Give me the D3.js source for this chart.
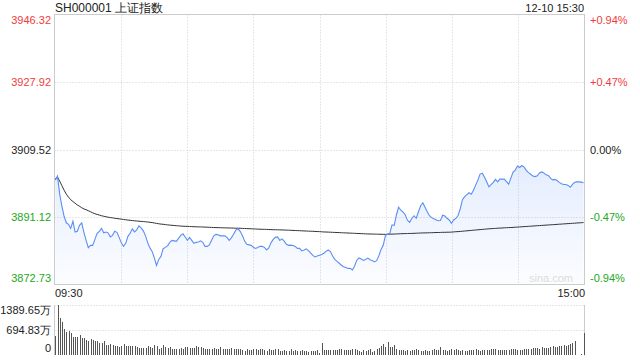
<!DOCTYPE html>
<html><head><meta charset="utf-8">
<script src="https://cdn.jsdelivr.net/npm/d3@7/dist/d3.min.js"></script>
<style>body{margin:0;background:#fff}svg{display:block}text{font-family:"Liberation Sans",Arial,sans-serif}</style>
</head><body><svg id="c" width="640" height="360"></svg>
<script>
const title = "SH000001 上证指数";
const stamp = "12-10 15:30";
const prevClose = 3909.52;
const priceTicks = [3946.32, 3927.92, 3909.52, 3891.12, 3872.73];
const pctLabels = ["+0.94%", "+0.47%", "0.00%", "-0.47%", "-0.94%"];
const volTicks = [1389.65, 694.83, 0];
const volLabels = ["1389.65万", "694.83万", "0"];
const timeLabels = ["09:30", "15:00"];
const gridMinutes = [30, 60, 90, 120, 150, 180, 210];

const prices = [
3901.18,3902.27,3897.35,3894.06,3891.33,3889.55,3889.14,3888.05,3889.96,3887.03,
3887.23,3888.87,3889.50,3886.95,3884.76,3882.77,3883.40,3883.40,3885.04,3886.68,
3887.23,3888.05,3886.81,3887.03,3886.81,3885.72,3886.13,3887.23,3886.95,3885.58,
3884.08,3883.12,3883.94,3885.86,3886.68,3887.91,3887.09,3887.64,3888.73,3888.18,
3887.36,3885.99,3884.08,3882.71,3881.75,3879.98,3877.92,3879.57,3880.39,3882.49,
3882.85,3883.26,3884.22,3884.76,3884.63,3884.49,3885.31,3886.13,3886.54,3885.67,
3884.76,3885.58,3884.76,3883.94,3884.22,3884.30,3884.63,3884.22,3883.12,3883.12,
3883.53,3884.76,3885.99,3886.40,3886.27,3885.99,3885.99,3885.99,3885.58,3884.76,
3885.45,3886.40,3887.55,3887.91,3887.23,3886.08,3884.63,3883.67,3883.53,3883.40,
3882.85,3882.57,3882.79,3883.12,3883.12,3882.85,3882.16,3882.71,3884.08,3885.04,
3885.58,3885.72,3884.76,3885.17,3884.54,3883.67,3883.40,3883.45,3883.34,3883.12,
3882.57,3882.57,3881.89,3882.16,3882.46,3881.94,3881.34,3880.66,3880.25,3880.47,
3880.71,3880.93,3881.26,3881.75,3882.14,3881.70,3880.52,3879.57,3879.02,3878.52,
3877.98,3877.59,3877.38,3877.10,3877.16,3876.69,3877.79,3879.35,3879.98,3879.67,
3879.29,3879.57,3879.92,3879.46,3879.26,3878.88,3879.21,3880.52,3882.25,3883.40,
3886.13,3886.40,3886.68,3889.00,3888.87,3891.74,3893.79,3892.97,3892.48,3891.74,
3890.23,3889.69,3890.78,3891.47,3890.78,3892.56,3894.20,3895.02,3893.79,3892.56,
3891.47,3890.95,3890.64,3890.37,3890.10,3890.18,3891.60,3891.38,3890.78,3890.32,
3889.41,3890.32,3890.73,3891.52,3893.38,3895.84,3896.66,3897.21,3897.73,3897.35,
3898.44,3899.81,3901.18,3902.82,3903.09,3902.05,3900.71,3899.34,3899.97,3900.55,
3901.40,3900.71,3901.45,3901.45,3901.45,3900.77,3900.08,3901.72,3903.37,3903.91,
3905.01,3904.62,3905.17,3904.71,3903.83,3903.23,3902.79,3902.27,3902.13,3902.38,
3903.15,3903.42,3903.15,3902.63,3902.44,3901.72,3901.26,3901.37,3901.07,3900.55,
3900.17,3900.00,3899.97,3899.73,3899.23,3900.03,3900.58,3900.71,3900.71,3900.63,3900.44];

const avgPrices = [
3901.59,3902.00,3900.90,3899.67,3898.44,3897.35,3896.53,3895.84,3895.35,3894.89,
3894.39,3894.06,3893.65,3893.33,3893.11,3892.83,3892.56,3892.26,3892.01,3891.82,
3891.66,3891.47,3891.33,3891.19,3891.08,3890.97,3890.89,3890.78,3890.70,3890.62,
3890.54,3890.45,3890.37,3890.29,3890.23,3890.15,3890.10,3890.04,3889.99,3889.93,
3889.88,3889.82,3889.77,3889.69,3889.61,3889.50,3889.39,3889.28,3889.19,3889.14,
3889.06,3888.98,3888.92,3888.87,3888.81,3888.76,3888.70,3888.65,3888.62,3888.59,
3888.57,3888.54,3888.51,3888.48,3888.46,3888.43,3888.43,3888.40,3888.37,3888.35,
3888.32,3888.29,3888.26,3888.24,3888.24,3888.21,3888.18,3888.18,3888.15,3888.13,
3888.13,3888.10,3888.07,3888.07,3888.05,3888.02,3887.99,3887.96,3887.94,3887.91,
3887.88,3887.86,3887.83,3887.80,3887.77,3887.77,3887.75,3887.72,3887.69,3887.66,
3887.66,3887.64,3887.61,3887.61,3887.58,3887.55,3887.53,3887.50,3887.47,3887.44,
3887.42,3887.39,3887.36,3887.33,3887.31,3887.28,3887.25,3887.23,3887.20,3887.17,
3887.14,3887.09,3887.06,3887.03,3887.01,3886.98,3886.95,3886.92,3886.90,3886.87,
3886.84,3886.81,3886.79,3886.76,3886.73,3886.71,3886.68,3886.65,3886.62,3886.60,
3886.57,3886.54,3886.51,3886.49,3886.49,3886.46,3886.46,3886.43,3886.43,3886.40,
3886.40,3886.43,3886.46,3886.46,3886.49,3886.51,3886.54,3886.57,3886.60,3886.60,
3886.62,3886.65,3886.65,3886.68,3886.71,3886.73,3886.76,3886.79,3886.79,3886.81,
3886.84,3886.84,3886.87,3886.90,3886.90,3886.92,3886.95,3886.95,3886.98,3886.98,
3887.01,3887.06,3887.12,3887.14,3887.20,3887.25,3887.31,3887.36,3887.42,3887.47,
3887.53,3887.58,3887.64,3887.69,3887.75,3887.80,3887.86,3887.91,3887.94,3887.99,
3888.02,3888.07,3888.10,3888.13,3888.18,3888.21,3888.24,3888.26,3888.29,3888.35,
3888.37,3888.43,3888.46,3888.51,3888.54,3888.59,3888.62,3888.67,3888.70,3888.76,
3888.78,3888.84,3888.87,3888.92,3888.95,3889.00,3889.03,3889.08,3889.11,3889.17,
3889.19,3889.25,3889.28,3889.33,3889.36,3889.41,3889.44,3889.50,3889.52,3889.58,3889.61];

const volumes = [
524,1389.65,1029,908,711,627,655,599,487,487,
487,543,458,458,402,365,449,421,374,374,
318,318,374,262,262,290,262,234,234,206,
234,290,234,234,234,234,234,206,178,178,
178,178,234,206,178,262,234,150,178,262,
206,178,206,150,150,150,150,178,150,206,
206,178,178,178,234,206,206,178,150,150,
150,150,178,150,150,206,150,150,150,150,
178,150,150,150,150,122,94,150,122,122,
150,150,122,150,150,122,94,150,122,122,
150,150,94,94,122,94,94,150,94,122,
94,94,122,94,94,65,94,94,94,122,
56,
327,140,122,140,122,122,140,122,159,159,
122,122,122,122,159,168,140,103,65,122,
103,140,159,65,103,159,196,252,281,215,
346,206,206,262,159,122,140,122,103,122,
103,122,140,159,140,103,94,122,103,103,
122,159,122,140,206,122,122,103,140,159,
140,159,140,103,122,103,103,122,140,122,
159,140,103,122,140,122,140,159,159,159,
140,140,122,140,140,140,159,159,159,140,
140,140,159,159,159,159,178,178,178,159,
206,178,187,196,206,234,206,215,234,234,
262,243,262,290,318,374,0,0,10,590];

const RED = "#f03c3c", GREEN = "#22a822", DARK = "#222";
const colorOf = v => v > prevClose ? RED : (v < prevClose ? GREEN : DARK);

const svg = d3.select("#c");
const L = 54.5, R = 584.5, T = 14.5, B = 284.5, VT = 305, VB = 354.5;

const gx = d3.scaleLinear().domain([0, 240]).range([L, R]);
const x = d3.scaleLinear().domain([0, 240]).range([55.3, 583.5]);
const y = d3.scaleLinear().domain([priceTicks[4], priceTicks[0]]).range([B, T]);
const yv = d3.scaleLinear().domain([0, volTicks[0]]).range([VB, VT]);

// gradient
const defs = svg.append("defs");
const grad = defs.append("linearGradient").attr("id", "g").attr("x1", 0).attr("y1", 0).attr("x2", 0).attr("y2", 1);
grad.append("stop").attr("offset", "0%").attr("stop-color", "#5a8ef5").attr("stop-opacity", 0.16);
grad.append("stop").attr("offset", "100%").attr("stop-color", "#5a8ef5").attr("stop-opacity", 0.02);

// grid
const grid = svg.append("g").attr("stroke", "#cfcfcf").attr("stroke-dasharray", "1,2").attr("fill", "none");
grid.selectAll("line.h").data(priceTicks.slice(1, 4)).join("line")
  .attr("x1", L).attr("x2", R).attr("y1", d => Math.round(y(d)) + 0.5).attr("y2", d => Math.round(y(d)) + 0.5);
grid.selectAll("line.v").data(gridMinutes).join("line")
  .attr("x1", d => Math.round(gx(d)) + 0.5).attr("x2", d => Math.round(gx(d)) + 0.5).attr("y1", T).attr("y2", B);

// area + lines
const area = d3.area().x((d, i) => x(i)).y0(B).y1(d => y(d));
svg.append("path").datum(prices).attr("d", area).attr("fill", "url(#g)");
const line = d3.line().x((d, i) => x(i)).y(d => y(d));
svg.append("path").datum(avgPrices).attr("d", line).attr("fill", "none").attr("stroke", "#333").attr("stroke-width", 1);
svg.append("path").datum(prices).attr("d", line).attr("fill", "none").attr("stroke", "#5a8ef5").attr("stroke-width", 1.1);

// frame
svg.append("rect").attr("x", L).attr("y", T).attr("width", R - L).attr("height", B - T)
  .attr("fill", "none").attr("stroke", "#cccccc");

// watermark
svg.append("text").attr("x", 573).attr("y", 282).attr("text-anchor", "end")
  .attr("font-size", 11).attr("fill", "#dcdcdc").text("sina.com");

// price labels
svg.selectAll("text.pl").data(priceTicks).join("text")
  .attr("x", 51).attr("text-anchor", "end").attr("font-size", 11)
  .attr("y", (d, i) => i === 0 ? y(d) + 9.5 : (i === 4 ? y(d) - 2.5 : y(d) + 4))
  .attr("fill", d => colorOf(d)).text(d => d.toFixed(2));
svg.selectAll("text.pr").data(pctLabels).join("text")
  .attr("x", 590).attr("text-anchor", "start").attr("font-size", 11)
  .attr("y", (d, i) => i === 0 ? y(priceTicks[i]) + 9.5 : (i === 4 ? y(priceTicks[i]) - 2.5 : y(priceTicks[i]) + 4))
  .attr("fill", (d, i) => colorOf(priceTicks[i])).text(d => d);

// header
svg.append("text").attr("x", 55).attr("y", 11.5).attr("font-size", 12).attr("fill", "#222").text(title);
svg.append("text").attr("x", 584).attr("y", 11.5).attr("text-anchor", "end").attr("font-size", 11).attr("fill", "#222").text(stamp);

// time labels
svg.append("text").attr("x", 55).attr("y", 296.5).attr("font-size", 11).attr("fill", "#222").text(timeLabels[0]);
svg.append("text").attr("x", 585).attr("y", 296.5).attr("text-anchor", "end").attr("font-size", 11).attr("fill", "#222").text(timeLabels[1]);

// volume panel
const vg = svg.append("g").attr("stroke", "#cfcfcf").attr("stroke-dasharray", "1,2");
vg.selectAll("line").data(volTicks.slice(0, 2)).join("line")
  .attr("x1", L).attr("x2", R).attr("y1", d => Math.round(yv(d)) + 0.5).attr("y2", d => Math.round(yv(d)) + 0.5);
svg.append("line").attr("x1", L).attr("x2", L).attr("y1", VT).attr("y2", VB + 1).attr("stroke", "#cccccc");
svg.append("line").attr("x1", R).attr("x2", R).attr("y1", VT).attr("y2", VB + 1).attr("stroke", "#cccccc");

svg.append("g").attr("fill", "#555").attr("shape-rendering", "crispEdges")
  .selectAll("rect").data(volumes).join("rect")
  .attr("x", (d, i) => Math.round(x(i)) - 0.5 + 0.5).attr("width", 1)
  .attr("y", d => yv(d)).attr("height", d => Math.max(0, VB - yv(d)) + 0.5);

svg.selectAll("text.vl").data(volLabels).join("text")
  .attr("x", 51).attr("text-anchor", "end").attr("font-size", 11).attr("fill", "#222")
  .attr("y", (d, i) => i === 0 ? yv(volTicks[i]) + 8.5 : (i === 2 ? yv(volTicks[i]) - 2.5 : yv(volTicks[i]) + 4))
  .text(d => d);
</script>
</body></html>
